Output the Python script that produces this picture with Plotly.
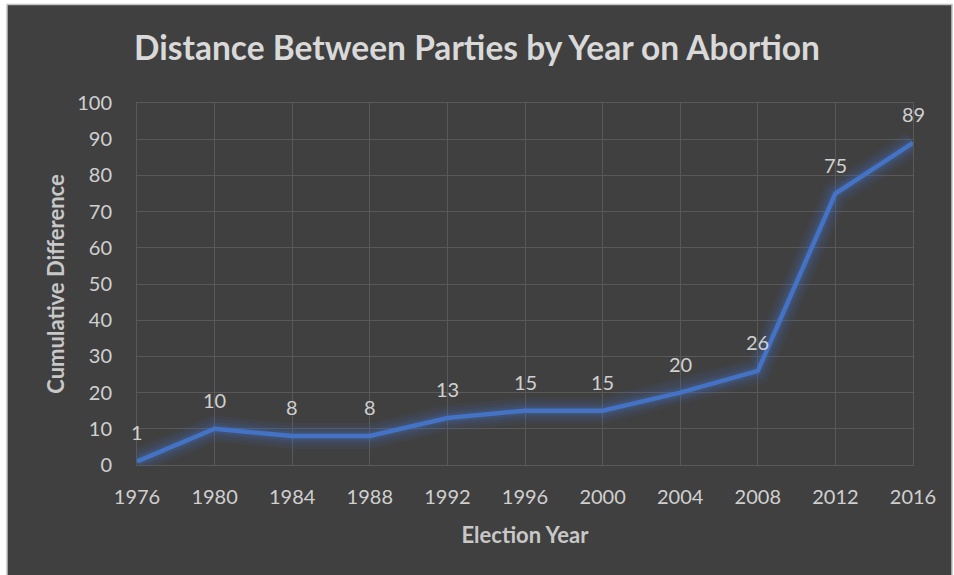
import plotly.graph_objects as go

# Election years and the cumulative party distance on abortion
years = [1976, 1980, 1984, 1988, 1992, 1996, 2000, 2004, 2008, 2012, 2016]
difference = [1, 10, 8, 8, 13, 15, 15, 20, 26, 75, 89]
y_ticks = [0, 10, 20, 30, 40, 50, 60, 70, 80, 90, 100]

W, H = 954, 575
L, R, T, B = 137, 41, 103, 110
FONT = "Lato"
LINE = "#4472C4"
GRID = "#595959"

fig = go.Figure()

# soft glow under the main line
for width, alpha in [(26, 0.07), (20, 0.09), (14, 0.12), (9, 0.18)]:
    fig.add_trace(go.Scatter(
        x=years, y=difference, mode="lines",
        line=dict(color=f"rgba(68,114,196,{alpha})", width=width, shape="linear"),
        hoverinfo="skip", showlegend=False,
    ))

fig.add_trace(go.Scatter(
    x=years, y=difference, mode="lines",
    line=dict(color=LINE, width=4.5),
    showlegend=False,
))

# value labels above each point
for x, v in zip(years, difference):
    fig.add_annotation(
        x=x, y=v, text=str(v), showarrow=False, yshift=29,
        font=dict(family=FONT, size=20, color="#d0d0d0"),
    )

# dark chart panel with a thin light frame
pw = W - L - R
ph = H - T - B
def px_x(p):
    return (p - L) / pw
def px_y(p):
    return (H - B - p) / ph

fig.add_shape(
    type="rect", xref="paper", yref="paper", layer="below",
    x0=px_x(7), x1=px_x(952), y0=px_y(576), y1=px_y(4.5),
    fillcolor="#404040", line=dict(color="#c4c4c4", width=1.5),
)

fig.update_layout(
    width=W, height=H,
    margin=dict(l=L, r=R, t=T, b=B),
    paper_bgcolor="white",
    plot_bgcolor="rgba(0,0,0,0)",
    title=dict(
        text="<b>Distance Between Parties by Year on Abortion</b>",
        x=0.5, xref="container", xanchor="center",
        y=1 - 48.5 / H, yanchor="middle",
        font=dict(family=FONT, size=33.5, color="#d9d9d9"),
    ),
    xaxis=dict(
        range=[1976, 2016], tickvals=years, ticktext=[str(y) for y in years],
        showgrid=True, gridcolor=GRID, gridwidth=1,
        showline=True, linecolor=GRID, linewidth=1, mirror=True,
        zeroline=False, ticks="", ticklabelstandoff=14,
        tickfont=dict(family=FONT, size=20, color="#d0d0d0"),
        title=dict(text="<b>Election Year</b>", standoff=20,
                   font=dict(family=FONT, size=22, color="#c8c8c8")),
    ),
    yaxis=dict(
        range=[0, 100], tickvals=y_ticks,
        showgrid=True, gridcolor=GRID, gridwidth=1,
        showline=True, linecolor=GRID, linewidth=1, mirror=True,
        zeroline=False, ticks="", ticklabelstandoff=20,
        tickfont=dict(family=FONT, size=20, color="#d0d0d0"),
        title=dict(text="<b>Cumulative Difference</b>", standoff=6,
                   font=dict(family=FONT, size=22, color="#c8c8c8")),
    ),
)

fig.write_html("out.html")
